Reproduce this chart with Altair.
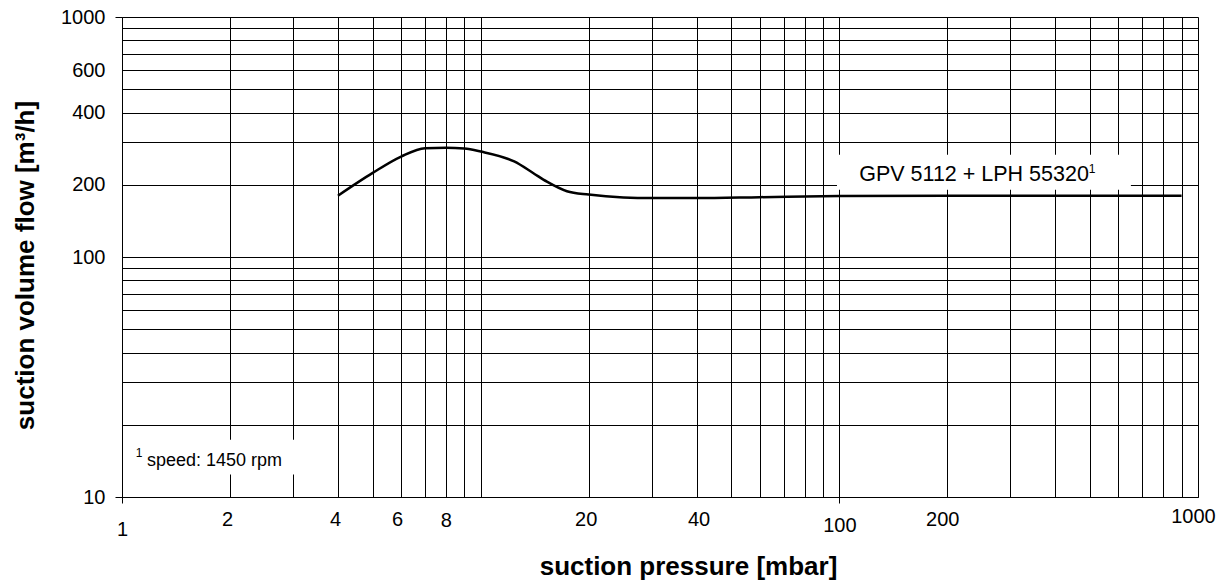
import altair as alt
import pandas as pd

# ---- data ----
pressure = [4, 5, 6, 7, 8, 9, 10, 12.4, 14, 15.3, 17.4, 20, 25, 30, 40, 60, 100, 200, 500, 900]
flow = [180, 224, 262, 284, 285, 283, 275, 250, 224, 206, 188, 182, 177, 176, 176, 177.5, 179.5, 180, 180, 180]

x_grid = [1, 2, 3, 4, 5, 6, 7, 8, 9, 10, 20, 30, 40, 50, 60, 70, 80, 90,
          100, 200, 300, 400, 500, 600, 700, 800, 900, 1000]
y_grid = [10, 20, 30, 40, 50, 60, 70, 80, 90, 100, 200, 300, 400, 500, 600,
          700, 800, 900, 1000]
x_labels = [1, 2, 4, 6, 8, 20, 40, 100, 200, 1000]
y_labels = [10, 100, 200, 400, 600, 1000]

# annotations (data coordinates)
series_label = ["GPV 5112 + LPH 55320"]
series_label_x = [113.6]
series_label_y = [206.5]
series_sup = ["1"]
series_sup_x = [496]
series_sup_y = [224]
series_box_x = [98.5]
series_box_x2 = [650]
series_box_y = [190.6]
series_box_y2 = [266.6]

foot_label = ["speed: 1450 rpm"]
foot_label_x = [1.174]
foot_label_y = [13.4]
foot_sup = ["1"]
foot_sup_x = [1.093]
foot_sup_y = [14.7]
foot_box_x = [1.03]
foot_box_x2 = [3.15]
foot_box_y = [12.4]
foot_box_y2 = [17.3]

FONT = "Liberation Sans"

curve = pd.DataFrame({"p": pressure, "q": flow})
boxes = pd.DataFrame({
    "x": series_box_x + foot_box_x, "x2": series_box_x2 + foot_box_x2,
    "y": series_box_y + foot_box_y, "y2": series_box_y2 + foot_box_y2,
})
s_lab = pd.DataFrame({"t": series_label, "x": series_label_x, "y": series_label_y})
f_lab = pd.DataFrame({"t": foot_label, "x": foot_label_x, "y": foot_label_y})
sups = pd.DataFrame({"t": series_sup + foot_sup, "x": series_sup_x + foot_sup_x,
                     "y": series_sup_y + foot_sup_y})

xl = ",".join(str(v) for v in x_labels)
yl = ",".join(str(v) for v in y_labels)

xscale = alt.Scale(type="log", domain=[1, 1000], nice=False)
yscale = alt.Scale(type="log", domain=[10, 1000], nice=False)

x_axis = alt.Axis(
    values=x_grid, grid=True, gridColor="#000", gridWidth=1,
    domainColor="#000", domainWidth=1,
    tickColor={"condition": {"test": "datum.value == 1 || datum.value == 100", "value": "#000"},
               "value": "transparent"},
    tickSize=6,
    labelExpr=f"indexof([{xl}], datum.value) >= 0 ? datum.value : ''",
    labelFont=FONT, labelFontSize=20, labelColor="#000",
    labelOverlap=False, labelFlush=False,
    labelPadding={"expr": "datum.value == 1 ? 16 : datum.value == 100 ? 12 : datum.value == 1000 ? 3 : datum.value == 8 ? 7 : 6"},
    labelOffset={"expr": "datum.value == 2 || datum.value == 4 || datum.value == 20 ? -3 : datum.value == 6 ? -4 : datum.value == 200 || datum.value == 1000 ? -5 : datum.value == 40 ? 2 : 0"},
    title="suction pressure [mbar]", titleFont=FONT, titleFontSize=26,
    titleFontWeight="bold", titleColor="#000",
    titleX=566, titleY=77, titleAlign="center", titleBaseline="alphabetic",
)
y_axis = alt.Axis(
    values=y_grid, grid=True, gridColor="#000", gridWidth=1,
    domainColor="#000", domainWidth=1,
    tickColor={"condition": {"test": "datum.value == 10 || datum.value == 1000", "value": "#000"},
               "value": "transparent"},
    tickSize=7,
    labelExpr=f"indexof([{yl}], datum.value) >= 0 ? datum.value : ''",
    labelFont=FONT, labelFontSize=20, labelColor="#000",
    labelOverlap=False, labelFlush=False, labelPadding=10,
    title="suction volume flow [m\u00b3/h]", titleFont=FONT, titleFontSize=26,
    titleFontWeight="bold", titleColor="#000",
    titleX=-89, titleY=248, titleAngle=270, titleAlign="center", titleBaseline="alphabetic",
)

line = alt.Chart(curve).mark_line(color="#000", strokeWidth=2.5, interpolate="monotone").encode(
    x=alt.X("p:Q", scale=xscale, axis=x_axis),
    y=alt.Y("q:Q", scale=yscale, axis=y_axis),
)
rects = alt.Chart(boxes).mark_rect(color="white").encode(
    x=alt.X("x:Q", scale=xscale), x2="x2:Q",
    y=alt.Y("y:Q", scale=yscale), y2="y2:Q",
)
s_text = alt.Chart(s_lab).mark_text(align="left", baseline="alphabetic", font=FONT,
                                    fontSize=21.5, color="#000").encode(
    x=alt.X("x:Q", scale=xscale), y=alt.Y("y:Q", scale=yscale), text="t:N")
f_text = alt.Chart(f_lab).mark_text(align="left", baseline="alphabetic", font=FONT,
                                    fontSize=18, color="#000").encode(
    x=alt.X("x:Q", scale=xscale), y=alt.Y("y:Q", scale=yscale), text="t:N")
sup_text = alt.Chart(sups).mark_text(align="left", baseline="alphabetic", font=FONT,
                                     fontSize=12, color="#000").encode(
    x=alt.X("x:Q", scale=xscale), y=alt.Y("y:Q", scale=yscale), text="t:N")

chart = alt.layer(rects, line, s_text, f_text, sup_text).properties(
    width=1076, height=480,
    autosize=alt.AutoSizeParams(type="none"),
    padding={"left": 114, "top": 9, "right": 20, "bottom": 83},
    background="white",
).configure_view(stroke="#000", strokeWidth=1).configure(font=FONT)

chart.save("out.html", embed_options={"renderer": "svg", "actions": False})
